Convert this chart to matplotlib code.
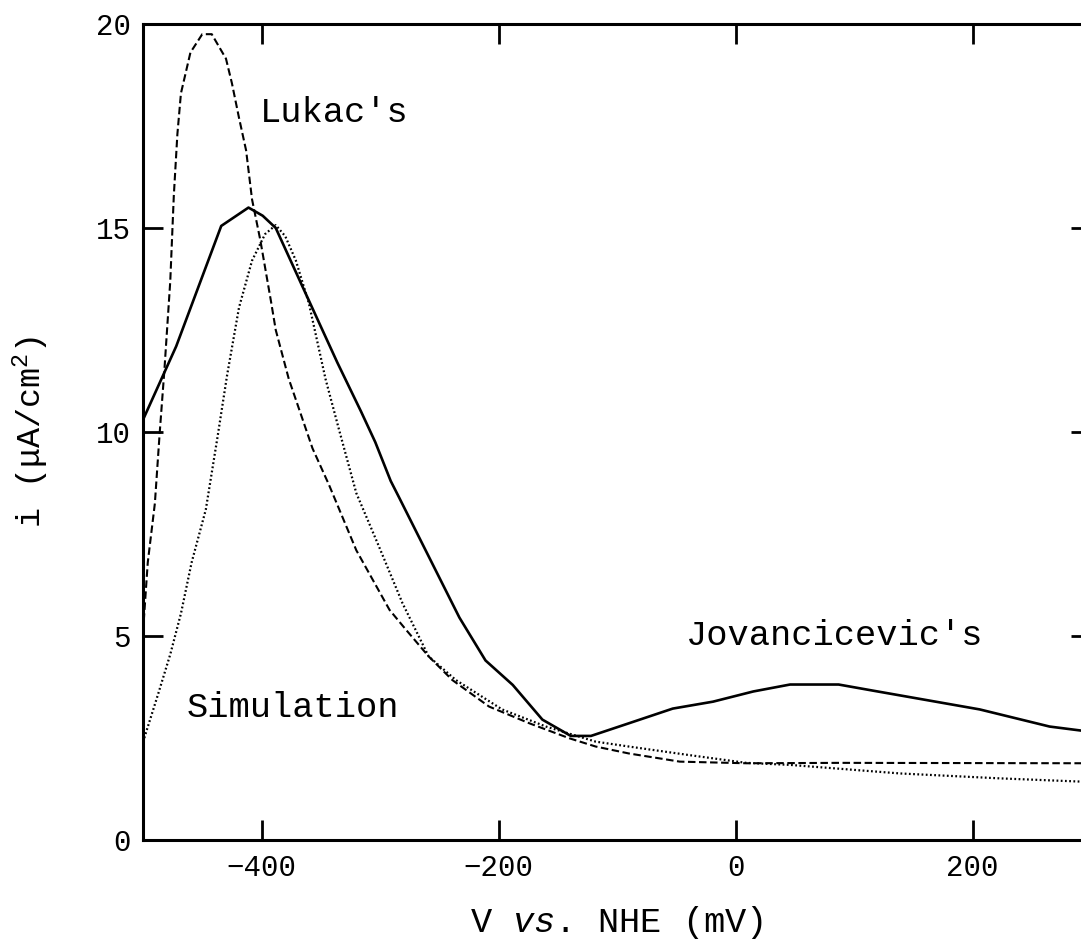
import matplotlib
matplotlib.use('Agg')
import matplotlib.pyplot as plt

plt.rcParams['font.family'] = ['Liberation Mono', 'DejaVu Sans Mono']
plt.rcParams['mathtext.fontset'] = 'custom'
plt.rcParams['mathtext.rm'] = 'Liberation Mono'
plt.rcParams['mathtext.it'] = 'Liberation Mono:italic'

# experimental curve (Jovancicevic)
jov_v = [-500, -472, -434, -411, -399, -388, -366, -336, -316, -304, -291, -284,
         -233, -211, -188, -163, -139, -122, -90, -53, -19, 15, 46, 87, 116, 161,
         206, 265, 300]
jov_i = [10.3, 12.1, 15.05, 15.5, 15.3, 15.0, 13.6, 11.7, 10.5, 9.75, 8.8, 8.4,
         5.45, 4.4, 3.8, 2.95, 2.55, 2.55, 2.86, 3.22, 3.39, 3.64, 3.81, 3.81, 3.66,
         3.43, 3.2, 2.78, 2.65]

# Lukac's curve
luk_v = [-500, -496, -490, -486, -482, -477, -474, -471, -468, -460, -450, -442,
         -430, -425, -419, -413, -408, -401, -392, -388, -377, -357, -343, -320,
         -292, -278, -259, -239, -208, -174, -140, -118, -90, -47, 9, 88, 300]
luk_i = [5.1, 6.8, 8.25, 9.95, 11.5, 13.7, 15.8, 17.3, 18.3, 19.3, 19.75, 19.75,
         19.15, 18.55, 17.7, 16.9, 15.7, 14.7, 13.2, 12.5, 11.3, 9.6, 8.7, 7.1,
         5.64, 5.15, 4.5, 3.92, 3.27, 2.86, 2.49, 2.29, 2.12, 1.92, 1.88, 1.89, 1.88]

# simulation
sim_v = [-500, -487, -477, -468, -459, -447, -437, -429, -419, -408, -397, -388,
         -380, -371, -360, -346, -335, -320, -301, -281, -259, -236, -197, -160,
         -118, -90, -39, 9, 46, 139, 223, 292, 300]
sim_i = [2.4, 3.6, 4.55, 5.55, 6.8, 8.1, 9.9, 11.4, 13.05, 14.2, 14.85, 15.07,
         14.8, 14.2, 13.15, 11.3, 10.1, 8.5, 7.2, 5.8, 4.5, 3.92, 3.2, 2.78,
         2.41, 2.29, 2.08, 1.89, 1.84, 1.63, 1.51, 1.43, 1.42]

xticks = [-400, -200, 0, 200]
yticks = [0, 5, 10, 15, 20]

fig = plt.figure(figsize=(10.81, 9.44), dpi=100)
# right spine sits just past the figure edge, only its ticks show
ax = fig.add_axes([0.1323, 0.1102, 1.0093 - 0.1323, 0.9746 - 0.1102])

ax.plot(jov_v, jov_i, color='black', lw=1.9, linestyle='-')
ax.plot(luk_v, luk_i, color='black', lw=1.5, linestyle=(0, (3.6, 1.7)))
ax.plot(sim_v, sim_i, color='black', lw=1.6, linestyle=(0, (0.8, 1.1)))

ax.text(-401, 17.84, "Lukac's", fontsize=25.5, va='center', ha='left')
ax.text(-463, 3.24, "Simulation", fontsize=25.5, va='center', ha='left')
ax.text(-42, 5.0, "Jovancicevic's", fontsize=25.5, va='center', ha='left')

ax.set_xlim(-500, 300)
ax.set_ylim(0, 20)
ax.set_xticks(xticks)
ax.set_yticks(yticks)
ax.tick_params(direction='in', length=14.4, width=2, labelsize=21,
               top=True, right=True)
ax.tick_params(axis='x', pad=10)
ax.tick_params(axis='y', pad=9)
for sp in ax.spines.values():
    sp.set_linewidth(2.2)

ax.set_xlabel(r'V $\mathit{vs}$. NHE (mV)', fontsize=25.5, labelpad=16)
ax.set_ylabel(r'i ($\mathrm{\mu}$A/cm$^2$)', fontsize=24, labelpad=32)

fig.savefig('out.png', dpi=100)
